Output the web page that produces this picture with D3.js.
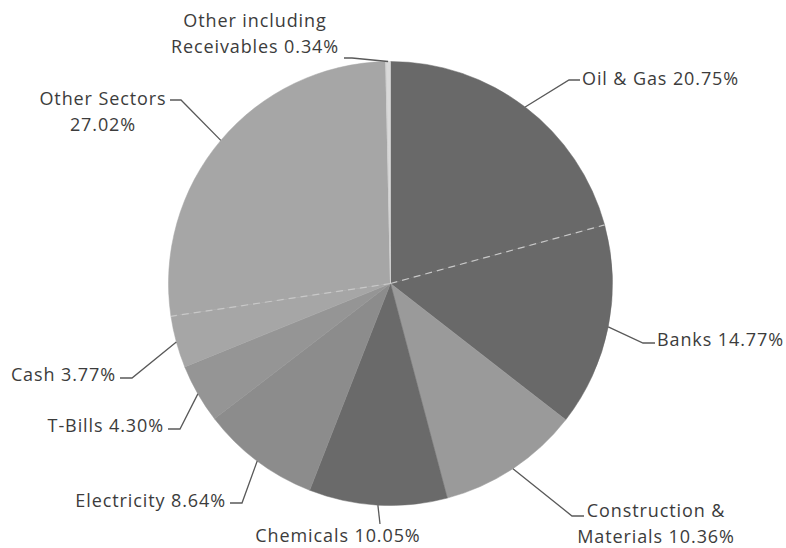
<!DOCTYPE html>
<html>
<head>
<meta charset="utf-8">
<script src="https://cdnjs.cloudflare.com/ajax/libs/d3/7.8.5/d3.min.js"></script>
<style>
  html, body { margin: 0; padding: 0; background: #fff; }
  #chart { width: 786px; height: 548px; }
  .label { font-family: 'Open Sans', Lato, sans-serif; font-size: 18px; letter-spacing: 0.9px; fill: #3c3c3c; }
  .leader { fill: none; stroke: #595959; stroke-width: 1.3; }
</style>
</head>
<body>
<div id="chart"></div>
<script>

const sectors = ['Oil & Gas', 'Banks', 'Construction & Materials', 'Chemicals', 'Electricity',
  'T-Bills', 'Cash', 'Other Sectors', 'Other including Receivables'];
const weights = [20.75, 14.77, 10.36, 10.05, 8.64, 4.30, 3.77, 27.02, 0.34];
const labelLines = [
  ['Oil & Gas 20.75%'],
  ['Banks 14.77%'],
  ['Construction &', 'Materials 10.36%'],
  ['Chemicals 10.05%'],
  ['Electricity 8.64%'],
  ['T-Bills 4.30%'],
  ['Cash 3.77%'],
  ['Other Sectors', '27.02%'],
  ['Other including', 'Receivables 0.34%']
];
const shades = ['#696969', '#696969', '#9a9a9a', '#6a6a6a', '#8c8c8c', '#959595', '#a6a6a6', '#a6a6a6', '#d9d9d9'];

// label placement: elbow of the leader, end of its short tail, text anchor point
const labelLayout = [
  { elbow: [569, 80], tail: 580, x: 582, y: 85, anchor: 'start' },
  { elbow: [643, 343], tail: 655, x: 657, y: 346, anchor: 'start' },
  { elbow: [572, 516], tail: 584, x: 656, y: 517, anchor: 'middle' },
  { elbow: [380, 524], tail: 380, x: 338, y: 542, anchor: 'middle' },
  { elbow: [242, 503], tail: 230, x: 226, y: 507, anchor: 'end' },
  { elbow: [180, 429], tail: 168, x: 164, y: 432, anchor: 'end' },
  { elbow: [132, 378], tail: 120, x: 116, y: 381, anchor: 'end' },
  { elbow: [181, 100], tail: 170, x: 103, y: 105, anchor: 'middle' },
  { elbow: [352, 58], tail: 344, x: 255, y: 27, anchor: 'middle' }
];


/**
 * Pie chart with leader-line labels.
 * @public
 * @class
 */
class SectorPie {


  constructor() {

    this._center = { x: 390.5, y: 283.5 };
    this._radius = 222;
    this._lineHeight = 26;

    this._slices = d3.pie()
      .sort(null)
      .value(d => d.value)(sectors.map((s, i) => ({
        name: s,
        value: weights[i],
        color: shades[i],
        lines: labelLines[i],
        layout: labelLayout[i]
      })));
  }


  /**
   * Render chart.
   * @param {String} selector
   * @returns {SectorPie}
   */
  renderTo(selector) {

    const box = d3.select(selector).node().getBoundingClientRect();

    this._svg = d3.select(selector)
      .append('svg')
      .attr('width', box.width)
      .attr('height', box.height);

    this._pie = this._svg
      .append('g')
      .attr('transform', 'translate(' + [this._center.x, this._center.y] + ')');

    const arc = d3.arc()
      .innerRadius(0)
      .outerRadius(this._radius);

    this._pie.selectAll('path.slice')
      .data(this._slices)
      .enter()
      .append('path')
      .attr('class', 'slice')
      .attr('d', arc)
      .style('fill', d => d.data.color)
      .style('stroke', d => d.data.color)
      .style('stroke-width', 0.5);

    // faint dashed seams between neighbours of the same shade
    const seams = this._slices.filter((d, i) => {
      const prev = this._slices[(i + this._slices.length - 1) % this._slices.length];
      return prev.data.color === d.data.color;
    });

    this._pie.selectAll('line.seam')
      .data(seams)
      .enter()
      .append('line')
      .attr('class', 'seam')
      .attr('x1', 0)
      .attr('y1', 0)
      .attr('x2', d => this._radius * Math.sin(d.startAngle))
      .attr('y2', d => -this._radius * Math.cos(d.startAngle))
      .style('stroke', '#c8c8c8')
      .style('stroke-width', 1.2)
      .style('stroke-dasharray', '7,5');

    // thin light edge for the tiny last slice
    this._pie.selectAll('line.edge')
      .data(this._slices.slice(-1))
      .enter()
      .append('line')
      .attr('class', 'edge')
      .attr('x1', 0)
      .attr('y1', 0)
      .attr('x2', d => this._radius * Math.sin(d.startAngle))
      .attr('y2', d => -this._radius * Math.cos(d.startAngle))
      .style('stroke', '#cfcfcf')
      .style('stroke-width', 1);

    this._svg.selectAll('polyline.leader')
      .data(this._slices)
      .enter()
      .append('polyline')
      .attr('class', 'leader')
      .attr('points', d => {
        const mid = (d.startAngle + d.endAngle) / 2;
        const edge = [
          this._center.x + this._radius * Math.sin(mid),
          this._center.y - this._radius * Math.cos(mid)
        ];
        const l = d.data.layout;
        return [edge, l.elbow, [l.tail, l.elbow[1]]].map(p => p.join(',')).join(' ');
      });

    const labels = this._svg.selectAll('text.label')
      .data(this._slices)
      .enter()
      .append('text')
      .attr('class', 'label')
      .attr('text-anchor', d => d.data.layout.anchor)
      .attr('x', d => d.data.layout.x)
      .attr('y', d => d.data.layout.y);

    labels.selectAll('tspan')
      .data(d => d.data.lines.map(t => ({ text: t, x: d.data.layout.x })))
      .enter()
      .append('tspan')
      .attr('x', t => t.x)
      .attr('dy', (t, i) => i === 0 ? 0 : this._lineHeight)
      .text(t => t.text);

    return this;
  }
}

new SectorPie().renderTo('#chart');
</script>
</body>
</html>
